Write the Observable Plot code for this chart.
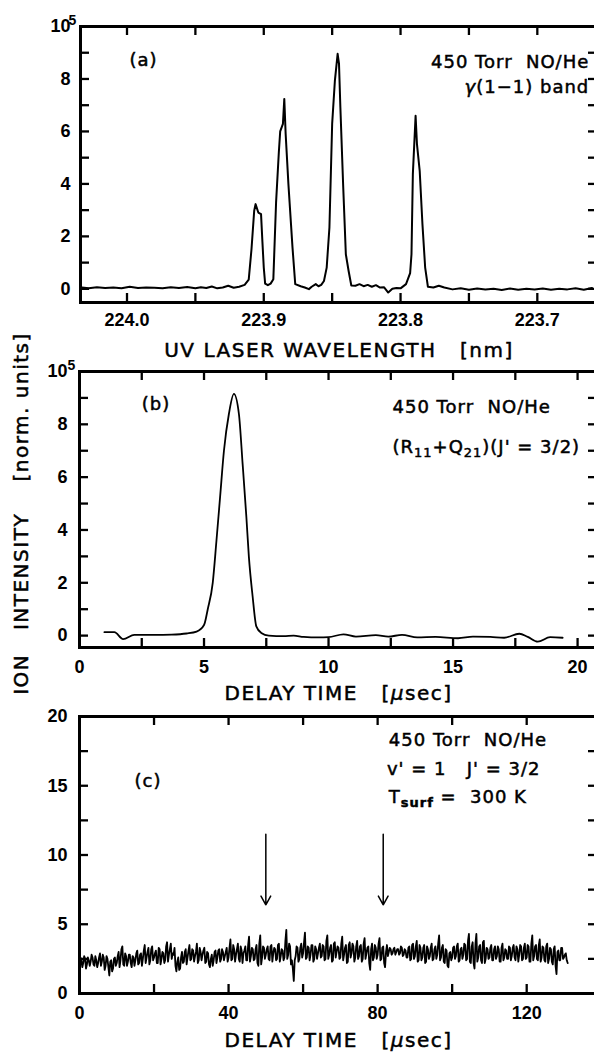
<!DOCTYPE html>
<html><head><meta charset="utf-8">
<script src="https://cdn.jsdelivr.net/npm/d3@7"></script>
<script src="https://cdn.jsdelivr.net/npm/@observablehq/plot@0.6"></script>
<style>
html,body{margin:0;padding:0;background:#fff;overflow:hidden;}
#wrap{position:relative;width:598px;height:1052px;overflow:hidden;}
#wrap svg{position:absolute;left:0;}
</style></head><body><div id="wrap"></div>
<script>
// ---------- Panel (a): UV laser wavelength scan ----------
const aWave = [224.033,224.028,224.022,224.016,224.010,224.004,223.998,223.992,223.986,223.980,223.974,223.968,223.962,223.956,223.950,223.946,223.942,223.938,223.934,223.930,223.926,223.922,223.918,223.914,223.911,223.909,223.907,223.906,223.904,223.902,223.901,223.900,223.899,223.897,223.895,223.893,223.891,223.889,223.888,223.886,223.885,223.884,223.882,223.879,223.877,223.873,223.870,223.867,223.865,223.862,223.860,223.858,223.856,223.854,223.852,223.850,223.848,223.846,223.845,223.844,223.842,223.840,223.838,223.836,223.833,223.830,223.827,223.824,223.821,223.818,223.815,223.812,223.809,223.806,223.803,223.800,223.796,223.793,223.792,223.791,223.789,223.788,223.786,223.784,223.782,223.780,223.776,223.772,223.768,223.762,223.756,223.750,223.744,223.738,223.732,223.726,223.720,223.714,223.708,223.702,223.696,223.690,223.684,223.678,223.672,223.666,223.660];
const aInt  = [0.05,0.02,0.06,0.03,0.05,0.02,0.08,0.03,0.05,0.04,0.02,0.06,0.03,0.07,0.02,0.06,0.03,0.09,0.02,0.05,0.12,0.04,0.08,0.15,0.35,1.5,2.98,3.23,2.91,2.85,1.8,0.81,0.2,0.14,0.2,0.37,3.3,5.2,6.0,6.29,7.24,5.9,4.0,1.58,0.18,0.1,0.05,-0.01,0.08,0.18,0.1,0.15,0.3,0.81,2.34,6.29,7.94,8.96,8.58,6.92,4.0,1.32,0.69,0.13,0.12,0.18,0.1,0.15,0.08,0.14,0.05,0.06,-0.14,0.0,0.03,0.02,0.18,0.6,1.32,4.38,6.6,5.52,4.5,2.47,0.81,0.08,0.05,0.12,0.05,-0.02,0.02,-0.03,0.01,-0.02,0.0,-0.04,0.01,-0.03,0.0,-0.02,0.01,-0.03,0.0,-0.02,0.02,-0.03,0.03];
const aXLabels = [224.0, 223.9, 223.8, 223.7];
const aXTicks  = [224.0, 223.95, 223.9, 223.85, 223.8, 223.75, 223.7];
const aYLabels = [0, 2, 4, 6, 8, 10];
const aYTicks  = [0, 1, 2, 3, 4, 5, 6, 7, 8, 9, 10];

// ---------- Panel (b): delay time scan ----------
const bTime = [1.0,1.4,1.75,2.2,3.0,3.7,4.3,4.7,5.0,5.15,5.35,5.5,5.65,5.8,6.0,6.2,6.4,6.55,6.7,6.8,6.95,7.1,7.3,7.6,8.2,8.6,9.0,9.6,10.0,10.6,11.1,11.9,12.4,12.95,13.56,14.3,15.2,15.8,16.5,17.05,17.66,18.0,18.4,18.9,19.4];
const bInt  = [0.13,0.13,-0.13,0.03,0.03,0.04,0.08,0.15,0.4,1.0,2.0,3.6,5.3,7.0,8.4,9.15,8.4,6.5,4.5,3.0,1.5,0.35,0.1,0.0,-0.02,0.0,-0.05,-0.07,-0.06,0.05,-0.04,0.02,-0.04,0.03,-0.07,-0.05,-0.1,-0.04,-0.05,-0.08,0.07,-0.05,-0.23,-0.06,-0.08];
const bXLabels = [0, 5, 10, 15, 20];
const bXTicks  = [0, 2.5, 5, 7.5, 10, 12.5, 15, 17.5, 20];
const bYLabels = [0, 2, 4, 6, 8, 10];
const bYTicks  = [0, 1, 2, 3, 4, 5, 6, 7, 8, 9, 10];

// ---------- Panel (c): long delay trace ----------
// cIntOn: samples at t = 0, 0.5, 1.0, ... ; cIntMid: samples at t = 0.25, 0.75, ...
const cStep = 0.5;
const cIntOn = [
1.5,2.4,2.2,2.5,2.1,2.4,2.3,2.6,2.0,2.4,
2.2,2.9,2.3,2.6,2.0,2.5,1.3,2.4,1.8,2.6,
2.2,3.0,2.4,3.4,2.0,2.7,2.3,2.8,1.9,2.6,
2.4,3.1,2.2,2.9,2.5,3.5,2.6,3.3,2.4,3.4,
2.6,3.1,2.2,3.2,2.5,2.9,2.4,3.7,2.8,3.6,
2.9,3.3,1.6,2.6,1.8,3.0,2.3,3.2,2.6,3.5,
2.5,3.1,2.7,3.6,2.4,3.0,2.8,3.3,2.3,2.9,
1.9,2.8,2.4,3.1,2.6,3.2,2.5,3.0,2.7,3.3,
2.6,3.9,2.5,3.2,2.8,3.6,2.3,3.1,2.9,3.4,
2.4,4.1,2.7,3.2,2.5,3.5,2.0,4.2,2.6,3.3,
2.8,3.4,2.4,3.5,2.9,3.2,2.5,3.6,2.7,3.1,
2.6,4.6,2.8,3.4,2.4,0.9,2.7,3.3,2.5,3.6,
2.9,4.4,2.6,3.3,2.8,3.5,2.5,3.2,2.9,3.6,
2.7,3.4,2.5,4.2,2.8,3.5,2.4,3.7,3.0,3.3,
2.6,4.1,2.8,3.5,2.3,3.7,2.9,3.4,2.6,3.8,
2.7,3.5,2.5,4.0,2.9,3.4,1.7,3.6,2.6,3.3,
2.8,4.0,2.5,3.4,1.9,3.5,3.0,3.2,2.9,3.3,
3.0,3.2,2.9,3.3,2.8,3.1,2.6,3.4,2.5,3.6,
2.7,3.8,2.4,3.3,2.6,3.5,2.3,3.2,2.7,3.6,
2.5,3.4,2.8,4.2,2.6,3.5,2.2,3.1,1.9,3.0,
2.6,3.4,2.7,3.6,2.4,3.3,2.8,3.5,2.5,4.3,
2.2,3.7,1.8,4.3,2.6,3.5,2.2,3.8,2.5,3.2,
2.6,3.5,2.4,3.4,2.7,3.2,2.3,3.6,2.6,3.1,
2.5,3.3,2.7,3.5,2.4,3.2,2.8,3.4,2.5,3.6,
2.6,3.4,2.3,4.2,2.7,3.5,2.4,3.9,2.6,3.3,
2.3,3.6,2.5,3.2,2.1,3.4,1.4,3.1,2.4,3.3,
2.6,2.9,2.2];
const cIntMid = [
2.6,1.9,2.7,1.8,2.6,2.0,2.8,2.1,2.7,1.9,
2.6,2.0,2.8,1.7,2.7,1.9,2.3,1.6,2.5,2.0,
2.7,1.9,3.2,2.1,2.9,2.0,2.8,2.2,2.7,2.0,
2.9,2.1,2.8,2.0,3.1,2.2,3.0,2.1,3.2,2.4,
2.9,2.2,3.3,2.1,3.0,2.2,3.4,2.3,3.2,2.5,
2.8,2.0,2.3,1.7,2.6,2.2,3.0,2.1,3.1,2.4,
3.2,2.3,3.0,2.2,3.3,2.4,3.1,2.2,3.0,2.1,
2.5,2.0,3.0,2.2,3.1,2.3,3.2,2.4,3.0,2.3,
3.3,2.4,3.5,2.3,3.2,2.5,3.4,2.2,3.1,2.4,
3.5,2.3,3.3,2.4,3.2,2.2,3.6,2.1,3.4,2.5,
3.2,2.5,3.4,2.3,3.3,2.4,3.5,2.3,3.2,2.4,
3.8,2.5,3.6,2.1,1.8,2.4,3.4,2.3,3.3,2.6,
3.7,2.5,3.4,2.4,3.5,2.3,3.4,2.5,3.3,2.6,
3.5,2.4,3.8,2.5,3.3,2.3,3.6,2.6,3.4,2.5,
3.6,2.4,3.3,2.2,3.5,2.6,3.6,2.3,3.4,2.5,
3.4,2.3,3.6,2.5,3.3,2.2,3.2,2.4,3.5,2.5,
3.6,2.4,3.3,2.2,3.0,2.7,3.3,2.8,3.2,2.8,
3.2,2.8,3.4,2.7,3.2,2.6,3.3,2.4,3.5,2.5,
3.4,2.3,3.5,2.4,3.3,2.2,3.4,2.5,3.3,2.4,
3.2,2.5,3.6,2.4,3.3,2.3,3.2,2.0,2.9,2.4,
3.3,2.5,3.4,2.3,3.2,2.5,3.6,2.4,3.8,2.3,
3.4,2.2,3.6,2.3,3.4,2.4,3.7,2.2,3.3,2.5,
3.3,2.4,3.2,2.5,3.4,2.3,3.3,2.4,3.2,2.5,
3.4,2.4,3.3,2.6,3.4,2.3,3.5,2.4,3.3,2.5,
3.5,2.3,3.6,2.4,3.4,2.5,3.5,2.3,3.4,2.4,
3.4,2.2,3.3,2.3,3.2,2.0,3.0,2.4,3.3,2.5,
2.8,2.4];
const cXLabels = [0, 40, 80, 120];
const cXTicks  = [0, 20, 40, 60, 80, 100, 120];
const cYLabels = [0, 5, 10, 15, 20];
const cYTicks  = [0, 2.5, 5, 7.5, 10, 12.5, 15, 17.5, 20];
const cArrowT  = [50, 81.5];
const cArrowFrom = 11.5, cArrowTo = 6.4;

// ---------- texts ----------
const NB = "\u00a0";
const txtGas = "450 Torr" + NB + NB + "NO/He";
const yTitle = "ION" + NB+NB+NB + "INTENSITY" + NB+NB+NB+NB + "[norm." + NB + "units]";
const titleA = "UV LASER WAVELENGTH" + NB+NB+NB + "[nm]";
const titleT = "DELAY TIME" + NB+NB+NB + "[µsec]";

const TICKFONT = "Liberation Sans, Arial, sans-serif";
const TXTFONT = "DejaVu Sans, sans-serif";
const WIDTH = 598, MR = 1, TL = 9;
const wrap = document.getElementById("wrap");

function panel(o) {
  const fw = WIDTH - o.ml - MR;             // frame width (px)
  const fh = o.height - o.mt - o.mb;        // frame height (px)
  const tk = {stroke: "black", strokeWidth: 2.3};
  const labStyle = {fontFamily: TICKFONT, fontSize: 18, fontWeight: "bold", fill: "black", label: null};
  const marks = [
    Plot.tickX(o.xTicks, {x: d => d, insetTop: fh - TL, ...tk}),
    Plot.tickX(o.xTicks, {x: d => d, insetBottom: fh - TL, ...tk}),
    Plot.tickY(o.yTicks, {y: d => d, insetRight: fw - TL, ...tk}),
    Plot.tickY(o.yTicks, {y: d => d, insetLeft: fw - TL, ...tk}),
    Plot.axisX(o.xLabels, {anchor: "bottom", tickSize: 0, tickPadding: o.xPad, tickFormat: o.xFormat, ...labStyle}),
    Plot.axisY(o.yLabels, {anchor: "left", tickSize: 0, tickPadding: o.yPad, tickFormat: d => String(d), ...labStyle}),
    Plot.frame({stroke: "black", strokeWidth: 3}),
    ...o.marks,
    Plot.text([o.title], {frameAnchor: "bottom", dy: o.titleDy, fontFamily: TXTFONT, fontSize: 20, fill: "black", lineAnchor: "middle"})
  ];
  if (o.sup) marks.push(Plot.text(["5"], {frameAnchor: "top-left", dx: -12, dy: -11, textAnchor: "start", fontFamily: TICKFONT, fontSize: 14, fontWeight: "bold", fill: "black"}));
  const svg = Plot.plot({
    width: WIDTH, height: o.height,
    marginTop: o.mt, marginBottom: o.mb, marginLeft: o.ml, marginRight: MR,
    x: {domain: o.xDomain}, y: {domain: o.yDomain},
    style: {background: "transparent", overflow: "visible", maxWidth: "none", color: "black"},
    marks
  });
  svg.style.top = o.top + "px";
  wrap.appendChild(svg);
  return svg;
}

const annot = {fontFamily: TXTFONT, fontSize: 18, fill: "black"};

const svgA = panel({
  top: 0, height: 362, mt: 26, mb: 60, ml: 80,
  xDomain: [224.034, 223.656], yDomain: [-0.52, 10],
  xTicks: aXTicks, yTicks: aYTicks, xLabels: aXLabels, yLabels: aYLabels,
  xFormat: d3.format(".1f"), xPad: 11, yPad: 10, sup: true,
  title: titleA, titleDy: 48,
  marks: [
    Plot.line(aWave.map((w, i) => ({w, v: aInt[i]})), {x: "w", y: "v", stroke: "black", strokeWidth: 2, strokeLinejoin: "round"}),
    Plot.text(["(a)"], {x: [223.988], y: [8.7], textAnchor: "middle", ...annot}),
    Plot.text([txtGas], {x: [223.662], y: [8.63], textAnchor: "end", ...annot}),
    Plot.text(["γ(1−1) band"], {x: [223.662], y: [7.67], textAnchor: "end", ...annot})
  ]
});

const svgB = panel({
  top: 350, height: 353, mt: 21, mb: 56, ml: 79,
  xDomain: [0, 20.8], yDomain: [-0.45, 10],
  xTicks: bXTicks, yTicks: bYTicks, xLabels: bXLabels, yLabels: bYLabels,
  xFormat: d => String(d), xPad: 13, yPad: 12, sup: true,
  title: titleT, titleDy: 46,
  marks: [
    Plot.line(bTime.map((t, i) => ({t, v: bInt[i]})), {x: "t", y: "v", stroke: "black", strokeWidth: 1.8, curve: "monotone-x"}),
    Plot.text(["(b)"], {x: [3.07], y: [8.75], textAnchor: "middle", ...annot}),
    Plot.text([txtGas], {x: [12.57], y: [8.63], textAnchor: "start", ...annot}),
    Plot.text(["(R11+Q21)(J' = 3/2)"], {x: [12.57], y: [7.15], textAnchor: "start", ...annot}),
    Plot.text([yTitle], {frameAnchor: "left", rotate: -90, dx: -58, dy: 4, textAnchor: "middle", fontFamily: TXTFONT, fontSize: 20, fill: "black"})
  ]
});

const cData = [];
cIntOn.forEach((v, i) => {
  cData.push({t: i * cStep, v});
  if (i < cIntMid.length) cData.push({t: i * cStep + cStep / 2, v: cIntMid[i]});
});

const svgC = panel({
  top: 703, height: 349, mt: 13, mb: 59, ml: 79,
  xDomain: [0, 139], yDomain: [0, 20],
  xTicks: cXTicks, yTicks: cYTicks, xLabels: cXLabels, yLabels: cYLabels,
  xFormat: d => String(d), xPad: 13, yPad: 12, sup: false,
  title: titleT, titleDy: 47,
  marks: [
    Plot.line(cData, {x: "t", y: "v", stroke: "black", strokeWidth: 1.8}),
    Plot.arrow(cArrowT, {x1: d => d, x2: d => d, y1: cArrowFrom, y2: cArrowTo, stroke: "black", strokeWidth: 1.5, headLength: 10, headAngle: 58}),
    Plot.text(["(c)"], {x: [18.4], y: [15.35], textAnchor: "middle", ...annot}),
    Plot.text([txtGas], {x: [83.0], y: [18.27], textAnchor: "start", ...annot}),
    Plot.text(["v' = 1" + NB+NB+NB + "J' = 3/2"], {x: [82.5], y: [16.2], textAnchor: "start", ...annot}),
    Plot.text(["Tsurf =" + NB + NB + "300 K"], {x: [83.0], y: [14.17], textAnchor: "start", ...annot})
  ]
});

// ---------- rich text post-processing (sub/superscripts, italics, spacing) ----------
function rich(svg, match, segs) {
  d3.select(svg).selectAll("text").each(function () {
    if (this.textContent !== match) return;
    const t = d3.select(this);
    t.text(null);
    let shifted = false;
    segs.forEach(s => {
      const sp = t.append("tspan").text(s.t);
      if (s.sub && !shifted) { sp.attr("dy", "0.32em"); shifted = true; }
      else if (!s.sub && shifted) { sp.attr("dy", "-0.23em"); shifted = false; }
      if (s.sub) sp.attr("font-size", "72%");
      if (s.it) sp.attr("font-style", "italic");
      if (s.bold) sp.attr("font-weight", "bold");
    });
  });
}
rich(svgA, "γ(1−1) band", [{t: "γ", it: true}, {t: "(1−1) band"}]);
rich(svgB, "(R11+Q21)(J' = 3/2)", [{t: "(R"}, {t: "11", sub: true}, {t: "+Q"}, {t: "21", sub: true}, {t: ")(J' = 3/2)"}]);
rich(svgC, "Tsurf =" + NB + NB + "300 K", [{t: "T"}, {t: "surf", sub: true, bold: true}, {t: NB + "=" + NB + NB + "300 K"}]);
[svgB, svgC].forEach(s => rich(s, titleT, [{t: "DELAY TIME" + NB+NB+NB + "["}, {t: "µ", it: true}, {t: "sec]"}]));

[svgA, svgB, svgC].forEach(svg => {
  d3.select(svg).selectAll("text").each(function () {
    const cs = getComputedStyle(this);
    const fs = parseFloat(cs.fontSize);
    if (cs.fontFamily.includes("DejaVu")) {
      this.style.letterSpacing = fs >= 20 ? "1.5px" : "1px";
      this.setAttribute("stroke", "black");
      this.setAttribute("stroke-width", "0.5");
    }
  });
});
</script></body></html>
